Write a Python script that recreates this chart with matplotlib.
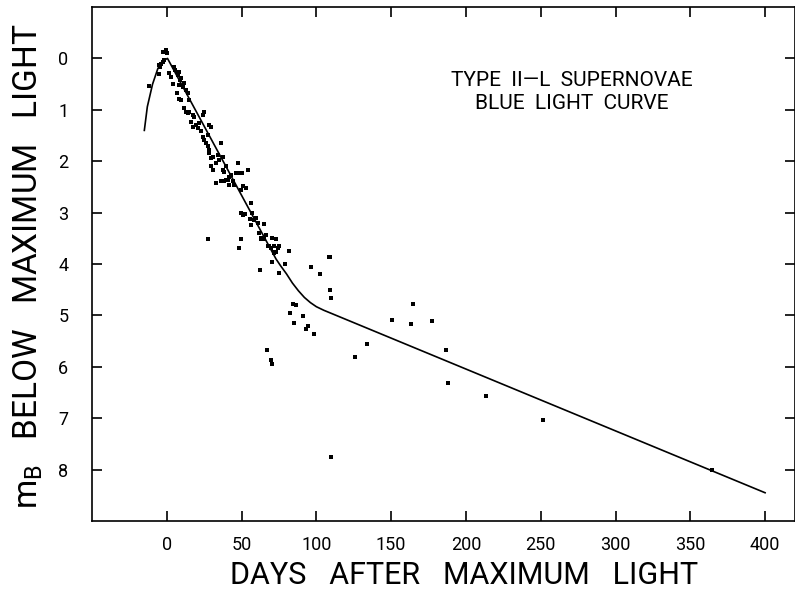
import numpy as np
import matplotlib
matplotlib.use("Agg")
import matplotlib.pyplot as plt

# template light curve (days after max, mag below max)
curve_days = [-15, -13, -9.5, -6, -3, 0.5, 73, 76, 80, 84, 88, 92, 96, 100, 105, 110, 400]
curve_mags = [1.40, 0.94, 0.50, 0.20, 0.05, 0.0, 3.90, 4.03, 4.19, 4.37, 4.52, 4.65, 4.75, 4.83, 4.90, 4.96, 8.45]

# individual observations
obs_days = [
    -2.2, -0.4, 0.2, -4.9, -3.8, -2.7, -4.4, -1.6, -12.0, -5.3,
    1.8, 2.9, 4.0, 5.1, 5.8, 6.7, 7.3, 8.5, 8.9, 9.6,
    10.7, 11.8, 12.9, 14.0, 15.1, 8.0, 6.9, 8.5, 9.6, 11.8,
    12.9, 14.0, 15.1, 17.4, 18.5, 16.2, 17.4, 19.6, 20.7, 21.8,
    24.0, 25.1, 22.9, 24.0, 25.1, 27.4, 28.5, 29.6, 26.2, 27.4,
    28.5, 29.6, 30.7, 32.9, 34.0, 35.1, 36.3, 37.4, 38.5, 39.6,
    40.7, 41.8, 42.9, 44.0, 45.2, 46.3, 47.4, 48.5, 50.3, 49.6,
    50.7, 52.9, 54.0, 56.3, 56.9, 58.5, 59.6, 60.7, 61.8, 62.9,
    64.1, 65.2, 66.3, 67.4, 68.5, 69.6, 70.3, 71.8, 73.0, 74.1,
    75.2, 27.4, 49.6, 48.0, 81.9, 37.4, 28.5, 29.6, 30.7, 32.9,
    36.3, 38.5, 39.6, 41.8, 49.6, 50.7, 52.0, 55.6, 56.3, 63.0,
    65.2, 71.4, 71.9, 73.0, 62.5, 70.5, 75.2, 79.2, 96.4, 102.6,
    109.0, 109.0, 110.0, 84.1, 86.4, 82.3, 85.2, 90.8, 93.0, 98.1,
    66.7, 69.7, 70.3, 125.9, 133.9, 164.6, 150.9, 163.3, 177.5, 186.6,
    188.2, 110.0, 213.2, 251.3, 364.4, 108.5, 94.2,
]
obs_mags = [
    -0.13, -0.16, -0.11, 0.13, 0.10, 0.07, 0.16, 0.03, 0.54, 0.30,
    0.29, 0.36, 0.49, 0.16, 0.23, 0.26, 0.32, 0.26, 0.42, 0.39,
    0.55, 0.47, 0.61, 0.68, 0.81, 0.52, 0.68, 0.78, 0.81, 0.97,
    1.04, 1.07, 1.04, 1.10, 1.13, 1.23, 1.33, 1.29, 1.36, 1.26,
    1.10, 1.04, 1.42, 1.52, 1.58, 1.49, 1.29, 1.33, 1.65, 1.71,
    1.84, 1.94, 1.91, 2.04, 1.88, 1.97, 1.65, 2.17, 2.20, 2.10,
    2.36, 2.30, 2.26, 2.39, 2.46, 2.23, 2.04, 2.22, 2.23, 2.55,
    2.49, 2.52, 2.17, 2.81, 3.01, 3.14, 3.10, 3.20, 3.40, 3.49,
    3.52, 3.23, 3.43, 3.65, 3.65, 3.69, 3.49, 3.78, 3.52, 3.69,
    3.65, 3.52, 3.51, 3.69, 3.75, 1.91, 1.78, 2.10, 2.17, 2.43,
    2.39, 2.39, 2.36, 2.46, 3.00, 3.04, 3.02, 3.12, 3.25, 3.51,
    3.52, 3.65, 3.76, 3.76, 4.12, 3.96, 4.17, 4.00, 4.06, 4.20,
    3.86, 4.50, 4.66, 4.77, 4.80, 4.96, 5.15, 5.01, 5.26, 5.37,
    5.67, 5.87, 5.94, 5.80, 5.56, 4.77, 5.09, 5.17, 5.10, 5.67,
    6.32, 7.75, 6.57, 7.04, 8.00, 3.86, 5.20,
]

x_ticks = [0, 50, 100, 150, 200, 250, 300, 350, 400]
y_ticks = [0, 1, 2, 3, 4, 5, 6, 7, 8]

text_font = ["Roboto", "DejaVu Sans"]

fig = plt.figure(figsize=(7.95, 5.92), dpi=100)
ax = fig.add_axes([0.1157, 0.1199, 0.8843, 0.8682])

ax.plot(curve_days, curve_mags, color="black", linewidth=1.2)
ax.scatter(obs_days, obs_mags, s=5, color="black", marker="s", linewidths=0)

ax.set_xlim(-50, 420)
ax.set_ylim(9, -1)
ax.set_xticks(x_ticks)
ax.set_yticks(y_ticks)
ax.tick_params(direction="in", length=7, width=1.2, top=True, right=True,
               labelsize=13)
ax.tick_params(axis="x", pad=11)
ax.tick_params(axis="y", pad=17)
for lab in ax.get_xticklabels() + ax.get_yticklabels():
    lab.set_family(text_font)
for sp in ax.spines.values():
    sp.set_linewidth(1.2)

ax.text(0.683, 0.835, "TYPE  II\u2014L  SUPERNOVAE\nBLUE  LIGHT  CURVE",
        transform=ax.transAxes, ha="center", va="center", fontsize=15,
        family=text_font, linespacing=1.3)

fig.text(0.036, 0.55, "$\\mathregular{m_B}$   BELOW   MAXIMUM   LIGHT",
         rotation=90, ha="center", va="center", fontsize=24,
         family=text_font)
fig.text(0.584, 1 - 590 / 592, "DAYS   AFTER   MAXIMUM   LIGHT",
         ha="center", va="bottom", fontsize=22, family=text_font)

plt.savefig("out.png", dpi=100)
plt.close()
